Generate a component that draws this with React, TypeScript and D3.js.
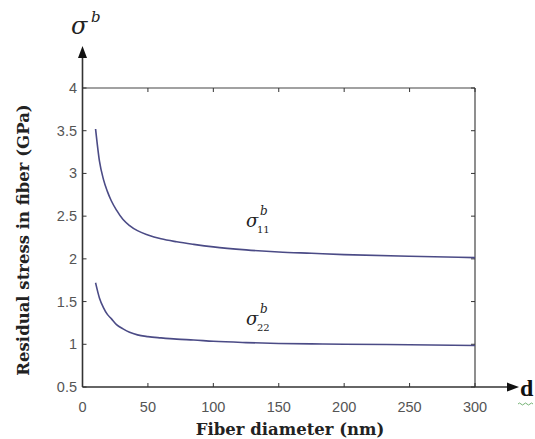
import React from "react";
import * as d3 from "d3";

const diameters = [10, 13, 16, 19, 22, 26, 31, 36, 42, 50, 60, 72, 85, 100, 125, 150, 175, 200, 250, 300];
const sigma11 = [3.52, 3.14, 2.93, 2.79, 2.68, 2.57, 2.46, 2.39, 2.33, 2.28, 2.235, 2.2, 2.17, 2.14, 2.105, 2.08, 2.065, 2.05, 2.03, 2.015];
const sigma22 = [1.72, 1.54, 1.43, 1.35, 1.3, 1.23, 1.18, 1.14, 1.11, 1.09, 1.075, 1.06, 1.05, 1.035, 1.02, 1.01, 1.005, 1.0, 0.995, 0.985];
const xTicks = [0, 50, 100, 150, 200, 250, 300];
const yTicks = [0.5, 1, 1.5, 2, 2.5, 3, 3.5, 4];

const W = 535, H = 439;
const L = 82.5, R = 475, T = 88, B = 387;

export default function App() {
  const x = d3.scaleLinear().domain([0, 300]).range([L, R]);
  const y = d3.scaleLinear().domain([0.5, 4]).range([B, T]);
  const line = d3.line<number>().x((_, i) => x(diameters[i])).y((v) => y(v)).curve(d3.curveMonotoneX);
  const axisCol = "#333";
  const tickFont = "'Liberation Sans', Arial, sans-serif";
  const serif = "'DejaVu Serif', 'Liberation Serif', serif";
  const curveCol = "#4b4b86";
  return (
    <svg width={W} height={H} style={{ position: "absolute", left: 0, top: 0, background: "#fff" }}>
      <rect width={W} height={H} fill="#fff" />
      {/* frame top & right */}
      <line x1={L} x2={R} y1={T} y2={T} stroke="#444" strokeWidth={1.2} />
      <line x1={R} x2={R} y1={T} y2={B} stroke="#444" strokeWidth={1.2} />
      {/* axes with arrows */}
      <line x1={L} x2={L} y1={B} y2={56} stroke={axisCol} strokeWidth={1.6} />
      <path d={`M${L},46 L${L - 4.5},58 L${L + 4.5},58 Z`} fill="#111" />
      <line x1={L} x2={508} y1={B} y2={B} stroke={axisCol} strokeWidth={1.6} />
      <path d={`M519,${B} L507,${B - 4.5} L507,${B + 4.5} Z`} fill="#111" />
      {/* ticks */}
      {xTicks.map((t) => (
        <g key={"x" + t}>
          <line x1={x(t)} x2={x(t)} y1={B} y2={B - 4} stroke={axisCol} strokeWidth={1} />
          <line x1={x(t)} x2={x(t)} y1={T} y2={T + 4} stroke={axisCol} strokeWidth={1} />
          <text x={x(t)} y={412} textAnchor="middle" fontFamily={tickFont} fontSize={14.5} fill="#555">{t}</text>
        </g>
      ))}
      {yTicks.map((t) => (
        <g key={"y" + t}>
          <line x1={L} x2={L + 4} y1={y(t)} y2={y(t)} stroke={axisCol} strokeWidth={1} />
          <line x1={R} x2={R - 4} y1={y(t)} y2={y(t)} stroke={axisCol} strokeWidth={1} />
          <text x={77} y={y(t) + 5} textAnchor="end" fontFamily={tickFont} fontSize={14.5} fill="#555">{t}</text>
        </g>
      ))}
      {/* curves */}
      <path d={line(sigma11) || ""} fill="none" stroke={curveCol} strokeWidth={1.6} />
      <path d={line(sigma22) || ""} fill="none" stroke={curveCol} strokeWidth={1.6} />
      {/* curve labels */}
      <g fontFamily={serif} fill="#222">
        <text x={246} y={227} fontSize={18} fontStyle="italic">σ</text>
        <text x={260} y={215} fontSize={12} fontStyle="italic">b</text>
        <text x={257} y={233} fontSize={10}>11</text>
        <text x={246} y={325} fontSize={18} fontStyle="italic">σ</text>
        <text x={260} y={313} fontSize={12} fontStyle="italic">b</text>
        <text x={257} y={331} fontSize={10}>22</text>
        <text x={71} y={34} fontSize={24} fontStyle="italic">σ</text>
        <text x={91} y={22} fontSize={15} fontStyle="italic">b</text>
      </g>
      <text x={520} y={396} fontFamily="'Liberation Serif', serif" fontWeight="bold" fontSize={24} fill="#111">d</text>
      <path d="M518,404 q1.5,-2 3,0 t3,0 t3,0 t3,0 t3,0" fill="none" stroke="#6a6" strokeWidth={0.9} />
      {/* axis titles */}
      <text x={290} y={435} textAnchor="middle" fontFamily={serif} fontWeight="bold" fontSize={16.5} fill="#222">Fiber diameter (nm)</text>
      <text transform="translate(29,240) rotate(-90)" textAnchor="middle" fontFamily={serif} fontWeight="bold" fontSize={16.5} fill="#222">Residual stress in fiber (GPa)</text>
    </svg>
  );
}
